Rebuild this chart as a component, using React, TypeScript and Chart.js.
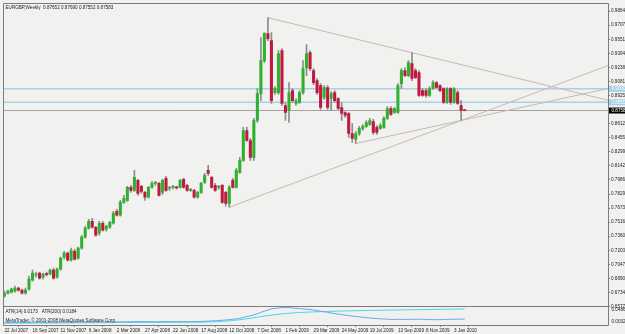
import React, { useEffect, useRef } from 'react';
import { Chart, registerables } from 'chart.js';

Chart.register(...registerables);

// ---------- data ----------
const START_YEAR = 2007;
const START_MONTH = 6; // July (0-based)
const START_DAY = 22;
const MONTHS = ['Jan', 'Feb', 'Mar', 'Apr', 'May', 'Jun', 'Jul', 'Aug', 'Sep', 'Oct', 'Nov', 'Dec'];

const OPEN = [
  0.6694, 0.6727, 0.6738, 0.6749, 0.6783, 0.6760, 0.6727, 0.6772, 0.6871, 0.6928,
  0.6950, 0.6905, 0.6939, 0.6939, 0.6983, 0.6905, 0.6994, 0.7127, 0.7171, 0.7094,
  0.7193, 0.7116, 0.7227, 0.7349, 0.7449, 0.7526, 0.7460, 0.7393, 0.7504, 0.7437,
  0.7460, 0.7504, 0.7637, 0.7593, 0.7737, 0.7759, 0.7904, 0.7870, 0.7981, 0.7915,
  0.7848, 0.7793, 0.7904, 0.7948, 0.7948, 0.7848, 0.8004, 0.7893, 0.7904, 0.7904,
  0.7904, 0.7993, 0.7926, 0.7870, 0.7870, 0.7793, 0.7848, 0.7959, 0.8092, 0.8015,
  0.7926, 0.7904, 0.7926, 0.7848, 0.7726, 0.7981, 0.7904, 0.8070, 0.8203, 0.8536,
  0.8425, 0.8237, 0.8647, 0.8947, 0.9313, 0.9613, 0.9535, 0.8958, 0.8958, 0.9424,
  0.8814, 0.8758, 0.8980, 0.8836, 0.8847, 0.8958, 0.9236, 0.9402, 0.9202, 0.9091,
  0.9036, 0.8903, 0.9014, 0.8892, 0.8958, 0.8892, 0.8792, 0.8736, 0.8725, 0.8503,
  0.8436, 0.8503, 0.8559, 0.8581, 0.8603, 0.8636, 0.8570, 0.8559, 0.8570, 0.8670,
  0.8781, 0.8736, 0.8736, 0.9058, 0.9202, 0.9147, 0.9280, 0.9202, 0.9180, 0.8980,
  0.8980, 0.8925, 0.9003, 0.9069, 0.9036, 0.9003, 0.8847, 0.9003, 0.8847, 0.8958,
  0.8814, 0.87652,
];
const HIGH = [
  0.6749, 0.6760, 0.6783, 0.6805, 0.6794, 0.6772, 0.6783, 0.6916, 0.6983, 0.6961,
  0.6961, 0.6950, 0.6961, 0.6994, 0.7005, 0.7005, 0.7127, 0.7193, 0.7182, 0.7227,
  0.7215, 0.7238, 0.7371, 0.7471, 0.7548, 0.7559, 0.7471, 0.7526, 0.7526, 0.7482,
  0.7526, 0.7637, 0.7659, 0.7759, 0.7815, 0.7915, 0.7926, 0.8092, 0.7993, 0.7926,
  0.7859, 0.7915, 0.7970, 0.7970, 0.7959, 0.7993, 0.8026, 0.7915, 0.7926, 0.7915,
  0.7993, 0.8004, 0.7937, 0.7893, 0.7882, 0.7859, 0.7959, 0.8059, 0.8148, 0.8026,
  0.7948, 0.7926, 0.7937, 0.7859, 0.7926, 0.8004, 0.8114, 0.8237, 0.8570, 0.8570,
  0.8448, 0.8670, 0.9003, 0.9569, 0.9624, 0.9791, 0.9624, 0.9025, 0.9424, 0.9446,
  0.8847, 0.9069, 0.9003, 0.8892, 0.8980, 0.9313, 0.9491, 0.9424, 0.9225, 0.9114,
  0.9058, 0.9036, 0.9036, 0.8969, 0.8980, 0.8903, 0.8847, 0.8747, 0.8736, 0.8614,
  0.8525, 0.8581, 0.8603, 0.8647, 0.8670, 0.8659, 0.8592, 0.8614, 0.8692, 0.8803,
  0.8803, 0.8792, 0.9058, 0.9225, 0.9236, 0.9313, 0.9402, 0.9225, 0.9202, 0.9003,
  0.9003, 0.9025, 0.9091, 0.9080, 0.9047, 0.9014, 0.9014, 0.9014, 0.9014, 0.8980,
  0.8869, 0.87690,
];
const LOW = [
  0.6683, 0.6716, 0.6727, 0.6738, 0.6749, 0.6716, 0.6716, 0.6760, 0.6860, 0.6905,
  0.6882, 0.6882, 0.6916, 0.6928, 0.6882, 0.6894, 0.6983, 0.7105, 0.7083, 0.7083,
  0.7094, 0.7105, 0.7215, 0.7338, 0.7437, 0.7449, 0.7360, 0.7371, 0.7415, 0.7415,
  0.7449, 0.7493, 0.7582, 0.7582, 0.7726, 0.7748, 0.7848, 0.7859, 0.7815, 0.7837,
  0.7759, 0.7782, 0.7893, 0.7926, 0.7804, 0.7826, 0.7859, 0.7870, 0.7882, 0.7882,
  0.7893, 0.7893, 0.7859, 0.7859, 0.7782, 0.7782, 0.7837, 0.7948, 0.8037, 0.7893,
  0.7859, 0.7882, 0.7726, 0.7693, 0.7682, 0.7893, 0.7893, 0.8059, 0.8192, 0.8414,
  0.8203, 0.8203, 0.8625, 0.8869, 0.9291, 0.9535, 0.8836, 0.8936, 0.8936, 0.8814,
  0.8647, 0.8625, 0.8847, 0.8814, 0.8836, 0.8936, 0.9147, 0.9202, 0.9047, 0.8936,
  0.8770, 0.8881, 0.8770, 0.8758, 0.8847, 0.8770, 0.8647, 0.8681, 0.8459, 0.8403,
  0.8392, 0.8481, 0.8536, 0.8570, 0.8592, 0.8492, 0.8492, 0.8548, 0.8559, 0.8658,
  0.8703, 0.8725, 0.8725, 0.9003, 0.9136, 0.9136, 0.9091, 0.9114, 0.8914, 0.8914,
  0.8903, 0.8914, 0.8992, 0.9003, 0.8969, 0.8836, 0.8836, 0.8825, 0.8836, 0.8825,
  0.8647, 0.87552,
];
const CLOSE = [
  0.6727, 0.6749, 0.6772, 0.6783, 0.6760, 0.6727, 0.6760, 0.6882, 0.6950, 0.6939,
  0.6894, 0.6939, 0.6933, 0.6983, 0.6894, 0.6994, 0.7116, 0.7171, 0.7094, 0.7204,
  0.7105, 0.7227, 0.7349, 0.7449, 0.7526, 0.7460, 0.7371, 0.7504, 0.7426, 0.7471,
  0.7515, 0.7615, 0.7593, 0.7737, 0.7782, 0.7904, 0.7870, 0.8015, 0.7837, 0.7859,
  0.7793, 0.7904, 0.7948, 0.7953, 0.7815, 0.7981, 0.7870, 0.7898, 0.7909, 0.7898,
  0.7981, 0.7904, 0.7870, 0.7876, 0.7793, 0.7848, 0.7948, 0.8037, 0.8059, 0.7904,
  0.7870, 0.7909, 0.7737, 0.7726, 0.7904, 0.7904, 0.8092, 0.8203, 0.8536, 0.8425,
  0.8237, 0.8647, 0.8947, 0.9313, 0.9613, 0.9557, 0.8869, 0.9003, 0.9391, 0.8836,
  0.8736, 0.8958, 0.8869, 0.8869, 0.8958, 0.9225, 0.9391, 0.9225, 0.9069, 0.8958,
  0.8792, 0.9014, 0.8792, 0.8947, 0.8869, 0.8781, 0.8725, 0.8703, 0.8503, 0.8448,
  0.8503, 0.8559, 0.8581, 0.8625, 0.8647, 0.8514, 0.8514, 0.8592, 0.8670, 0.8781,
  0.8714, 0.8781, 0.9036, 0.9202, 0.9147, 0.9291, 0.9114, 0.9125, 0.8925, 0.8925,
  0.8925, 0.9003, 0.9069, 0.9014, 0.8980, 0.8847, 0.9003, 0.8847, 0.9003, 0.8836,
  0.8758, 0.87583,
];

const ATR14 = [
  0.0095, 0.0094, 0.0092, 0.0093, 0.0091, 0.0090, 0.0092, 0.0095, 0.0097, 0.0096,
  0.0094, 0.0093, 0.0091, 0.0090, 0.0093, 0.0095, 0.0098, 0.0097, 0.0099, 0.0101,
  0.0102, 0.0100, 0.0103, 0.0104, 0.0102, 0.0101, 0.0103, 0.0105, 0.0104, 0.0102,
  0.0101, 0.0103, 0.0105, 0.0108, 0.0107, 0.0110, 0.0109, 0.0113, 0.0116, 0.0115,
  0.0113, 0.0112, 0.0110, 0.0108, 0.0111, 0.0113, 0.0116, 0.0114, 0.0112, 0.0110,
  0.0111, 0.0113, 0.0112, 0.0110, 0.0112, 0.0114, 0.0118, 0.0121, 0.0126, 0.0130,
  0.0135, 0.0138, 0.0146, 0.0152, 0.0160, 0.0168, 0.0178, 0.0190, 0.0215, 0.0232,
  0.0251, 0.0276, 0.0302, 0.0335, 0.0362, 0.0389, 0.0421, 0.0428, 0.0440, 0.0452,
  0.0446, 0.0450, 0.0441, 0.0432, 0.0425, 0.0418, 0.0410, 0.0404, 0.0392, 0.0375,
  0.0362, 0.0348, 0.0335, 0.0318, 0.0306, 0.0292, 0.0281, 0.0268, 0.0257, 0.0246,
  0.0238, 0.0226, 0.0218, 0.0208, 0.0199, 0.0192, 0.0185, 0.0180, 0.0176, 0.0171,
  0.0167, 0.0164, 0.0170, 0.0168, 0.0165, 0.0166, 0.0170, 0.0168, 0.0172, 0.0169,
  0.0166, 0.0163, 0.0160, 0.0158, 0.0160, 0.0164, 0.0167, 0.0170, 0.0168, 0.0171,
  0.0174, 0.0173,
];
const ATR200 = [
  0.0075, 0.0075, 0.0076, 0.0076, 0.0077, 0.0077, 0.0078, 0.0078, 0.0079, 0.0079,
  0.0080, 0.0080, 0.0081, 0.0081, 0.0082, 0.0082, 0.0083, 0.0083, 0.0084, 0.0084,
  0.0085, 0.0085, 0.0086, 0.0086, 0.0087, 0.0087, 0.0088, 0.0088, 0.0089, 0.0089,
  0.0090, 0.0090, 0.0091, 0.0091, 0.0092, 0.0092, 0.0093, 0.0093, 0.0094, 0.0094,
  0.0094, 0.0095, 0.0095, 0.0095, 0.0096, 0.0096, 0.0096, 0.0097, 0.0097, 0.0097,
  0.0098, 0.0098, 0.0098, 0.0099, 0.0099, 0.0100, 0.0101, 0.0102, 0.0104, 0.0106,
  0.0109, 0.0113, 0.0118, 0.0124, 0.0131, 0.0139, 0.0148, 0.0158, 0.0169, 0.0181,
  0.0193, 0.0206, 0.0219, 0.0232, 0.0245, 0.0257, 0.0268, 0.0279, 0.0289, 0.0298,
  0.0306, 0.0313, 0.0319, 0.0325, 0.0330, 0.0335, 0.0339, 0.0343, 0.0346, 0.0349,
  0.0352, 0.0355, 0.0357, 0.0360, 0.0362, 0.0364, 0.0366, 0.0368, 0.0370, 0.0372,
  0.0374, 0.0376, 0.0378, 0.0379, 0.0381, 0.0382, 0.0384, 0.0385, 0.0387, 0.0388,
  0.0390, 0.0391, 0.0392, 0.0394, 0.0395, 0.0396, 0.0398, 0.0399, 0.0400, 0.0401,
  0.0403, 0.0404, 0.0405, 0.0406, 0.0408, 0.0409, 0.0410, 0.0411, 0.0413, 0.0414,
  0.0415, 0.0416,
];

const Y_TICKS = [
  0.98640, 0.97075, 0.95510, 0.93945, 0.92380, 0.90815, 0.89250, 0.86120,
  0.84555, 0.82990, 0.81425, 0.79860, 0.78295, 0.76730, 0.75165, 0.73600,
  0.72035, 0.70470, 0.68905, 0.67340, 0.65775,
];
const X_TICK_INDEX = [0, 8, 16, 24, 32, 40, 48, 56, 64, 72, 80, 88, 96, 104, 112, 120, 128];
const ATR_AXIS_LABELS = ['0.0486', '0.0032'];
const BLUE_LEVELS = [0.9, 0.885];
const BID = 0.87583;
// trend lines: two bar indices each
const UPPER_TREND = [75, 116];   // through highs
const LOWER_TREND_A = [64, 130]; // through lows
const LOWER_TREND_B = [100, 130]; // through lows

const TITLE = 'EURGBP,Weekly  0.87652 0.87690 0.87552 0.87583';
const ATR_TITLE = 'ATR(14) 0.0173   ATR(200) 0.0184';
const COPYRIGHT = 'MetaTrader, \u00A9 2001-2008 MetaQuotes Software Corp.';

// ---------- look ----------
const X_MIN = -0.4;
const X_MAX = 171.8;
const Y_MIN = 0.6583;
const Y_MAX = 0.9946;
const ATR_MIN = 0.0032;
const ATR_MAX = 0.0486;
const BG = '#f1f1f0';
const FRAME = '#7c7c7c';
const BULL = '#2fb12f';
const BEAR = '#c0183e';
const WICK = '#8c8c8c';
const TREND = '#c9b6b6';
const BLUE_LINE = '#a5d4ea';
const BID_LINE = '#a3a3a3';
const FAMILY = '"Liberation Sans", Arial, sans-serif';
const FONT_SIZE = 4.6;

const DATES = OPEN.map((_, i) => {
  const d = new Date(Date.UTC(START_YEAR, START_MONTH, START_DAY + i * 7));
  return `${d.getUTCDate()} ${MONTHS[d.getUTCMonth()]} ${d.getUTCFullYear()}`;
});

function ray(a: number, b: number, src: number[]) {
  const slope = (src[b] - src[a]) / (b - a);
  return [
    { x: a, y: src[a] },
    { x: X_MAX, y: src[a] + slope * (X_MAX - a) },
  ];
}

const mt4Plugin = {
  id: 'mt4',
  beforeDraw(chart: any) {
    const { ctx, width, height } = chart;
    ctx.save();
    ctx.fillStyle = BG;
    ctx.fillRect(0, 0, width, height);
    ctx.restore();
  },
  afterDraw(chart: any) {
    const { ctx, chartArea } = chart;
    const y = chart.scales.y;
    const ya = chart.scales.yAtr;
    const L = Math.round(chartArea.left) + 0.5;
    const R = Math.round(chartArea.right) + 0.5;
    const T = Math.round(chartArea.top) - 0.5;
    const B = Math.round(chartArea.bottom) + 0.5;
    const S = Math.round(y.bottom) + 0.5;
    ctx.save();
    ctx.strokeStyle = FRAME;
    ctx.lineWidth = 1;
    ctx.beginPath();
    ctx.moveTo(L, T); ctx.lineTo(R, T); ctx.lineTo(R, B); ctx.lineTo(L, B); ctx.closePath();
    ctx.moveTo(L, S); ctx.lineTo(R, S);
    ctx.stroke();

    ctx.font = `${FONT_SIZE}px ${FAMILY}`;
    ctx.textBaseline = 'middle';
    ctx.textAlign = 'left';
    // price labels on axis
    const tag = (p: number, bg: string, fg: string) => {
      const py = y.getPixelForValue(p);
      ctx.fillStyle = bg;
      ctx.fillRect(R + 0.5, py - 3, chart.width - R, 6);
      ctx.fillStyle = fg;
      ctx.fillText(p.toFixed(5), R + 3, py + 0.3);
    };
    BLUE_LEVELS.forEach((p) => tag(p, '#9fd0e8', '#ffffff'));
    tag(BID, '#000000', '#ffffff');

    // texts
    ctx.fillStyle = '#222';
    ctx.textBaseline = 'top';
    ctx.fillText(TITLE, L + 2, T + 2);
    ctx.fillText(ATR_TITLE, L + 2, S + 2.5);
    ctx.fillText(COPYRIGHT, L + 2, B - 7);
    ctx.fillText(ATR_AXIS_LABELS[0], R + 3, ya.top + 1.5);
    ctx.textBaseline = 'bottom';
    ctx.fillText(ATR_AXIS_LABELS[1], R + 3, ya.bottom - 0.5);
    ctx.restore();
  },
};

export default function App() {
  const ref = useRef<HTMLCanvasElement | null>(null);

  useEffect(() => {
    if (!ref.current) return;
    const bull = CLOSE.map((c, i) => c >= OPEN[i]);
    const lineDs = (data: any[], color: string, width: number, axis = 'y', order = 4) => ({
      type: 'line' as const,
      data,
      borderColor: color,
      borderWidth: width,
      pointRadius: 0,
      tension: 0,
      fill: false,
      yAxisID: axis,
      xAxisID: 'x',
      order,
    });

    const chart = new Chart(ref.current, {
      type: 'bar',
      data: {
        datasets: [
          {
            type: 'bar',
            data: OPEN.map((o, i) => ({ x: i, y: [o, CLOSE[i]] })) as any,
            backgroundColor: bull.map((b) => (b ? BULL : BEAR)),
            borderWidth: 0,
            barThickness: 2.4,
            minBarLength: 1,
            grouped: false,
            order: 1,
            xAxisID: 'x',
            yAxisID: 'y',
          },
          {
            type: 'bar',
            data: HIGH.map((h, i) => ({ x: i, y: [LOW[i], h] })) as any,
            backgroundColor: WICK,
            borderWidth: 0,
            barThickness: 1,
            grouped: false,
            order: 2,
            xAxisID: 'x',
            yAxisID: 'y',
          },
          lineDs(ray(UPPER_TREND[0], UPPER_TREND[1], HIGH), TREND, 1, 'y', 3) as any,
          lineDs(ray(LOWER_TREND_A[0], LOWER_TREND_A[1], LOW), TREND, 1, 'y', 3) as any,
          lineDs(ray(LOWER_TREND_B[0], LOWER_TREND_B[1], LOW), TREND, 1, 'y', 3) as any,
          ...BLUE_LEVELS.map((lv) => lineDs([{ x: X_MIN, y: lv }, { x: X_MAX, y: lv }], BLUE_LINE, 1.6, 'y', 5) as any),
          lineDs([{ x: X_MIN, y: BID }, { x: X_MAX, y: BID }], BID_LINE, 1, 'y', 5) as any,
          lineDs(ATR14.map((v, i) => ({ x: i, y: v })), '#6aa8ea', 1, 'yAtr', 6) as any,
          lineDs(ATR200.map((v, i) => ({ x: i, y: v })), '#3fdcec', 1, 'yAtr', 6) as any,
        ],
      },
      options: {
        animation: false,
        responsive: false,
        devicePixelRatio: 1,
        events: [],
        layout: { padding: { top: 3, left: 3, right: 0, bottom: 0 } },
        plugins: { legend: { display: false }, tooltip: { enabled: false }, title: { display: false } },
        scales: {
          x: {
            type: 'linear',
            position: 'bottom',
            min: X_MIN,
            max: X_MAX,
            offset: false,
            grid: { display: true, drawOnChartArea: false, drawTicks: true, tickLength: 2, color: FRAME },
            border: { display: false },
            afterBuildTicks: (axis: any) => {
              axis.ticks = X_TICK_INDEX.map((v) => ({ value: v }));
            },
            afterFit: (axis: any) => {
              axis.height = 9;
            },
            ticks: {
              autoSkip: false,
              maxRotation: 0,
              minRotation: 0,
              align: 'start',
              padding: 1,
              color: '#222',
              font: { family: FAMILY, size: FONT_SIZE },
              callback: (v: any) => DATES[v as number] ?? '',
            },
          },
          y: {
            type: 'linear',
            position: 'right',
            stack: 'panes',
            stackWeight: 303,
            weight: 0,
            min: Y_MIN,
            max: Y_MAX,
            grid: { display: true, drawOnChartArea: false, drawTicks: true, tickLength: 2, color: FRAME },
            border: { display: false },
            afterBuildTicks: (axis: any) => {
              axis.ticks = Y_TICKS.map((v) => ({ value: v }));
            },
            afterFit: (axis: any) => {
              axis.width = 17;
            },
            ticks: {
              autoSkip: false,
              padding: 1,
              color: '#222',
              font: { family: FAMILY, size: FONT_SIZE },
              callback: (v: any) => Number(v).toFixed(5),
            },
          },
          yAtr: {
            type: 'linear',
            position: 'right',
            stack: 'panes',
            stackWeight: 19,
            weight: 1,
            min: ATR_MIN,
            max: ATR_MAX,
            grid: { display: false },
            border: { display: false },
            ticks: { display: false },
            afterFit: (axis: any) => {
              axis.width = 17;
            },
          },
        },
      } as any,
      plugins: [mt4Plugin],
    });
    return () => chart.destroy();
  }, []);

  return (
    <div style={{ position: 'absolute', left: 0, top: 0, width: 625, height: 334 }}>
      <canvas ref={ref} width={625} height={334} style={{ display: 'block', width: 625, height: 334 }} />
    </div>
  );
}
